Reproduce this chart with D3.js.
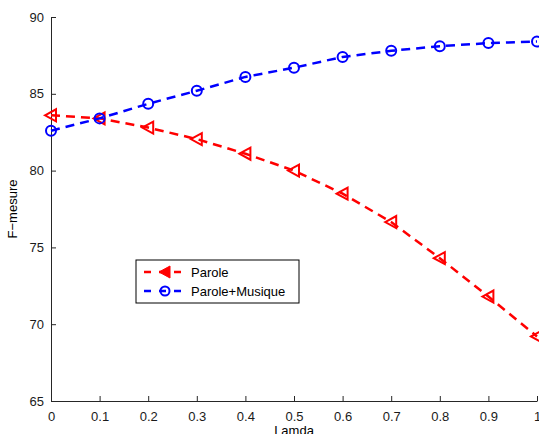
<!DOCTYPE html>
<html><head><meta charset="utf-8">
<script src="https://cdn.jsdelivr.net/npm/d3@7/dist/d3.min.js"></script>
<style>body{margin:0;background:#fff}svg{display:block}text{font-family:"Liberation Sans",Arial,sans-serif}</style>
</head><body>
<script>
const lambdas = [0,0.1,0.2,0.3,0.4,0.5,0.6,0.7,0.8,0.9,1.0];
const parole = [83.6,83.4,82.8,82.05,81.1,80.0,78.5,76.65,74.3,71.8,69.2];
const paroleMusique = [82.6,83.4,84.35,85.2,86.1,86.7,87.4,87.8,88.1,88.3,88.4];
const xTicks = [0,0.1,0.2,0.3,0.4,0.5,0.6,0.7,0.8,0.9,1];
const yTicks = [65,70,75,80,85,90];
const seriesNames = ["Parole","Parole+Musique"];
const colors = ["#ff0000","#0000ff"];

const W=539,H=434;
const svg=d3.select("body").append("svg").attr("width",W).attr("height",H);
const x=d3.scaleLinear().domain([0,1]).range([51,537]);
const y=d3.scaleLinear().domain([65,90]).range([401,17]);

const xa=svg.append("g").attr("transform","translate(0,401)")
  .call(d3.axisBottom(x).tickValues(xTicks).tickSizeInner(-5).tickSizeOuter(0).tickFormat(d=>d3.format("~g")(d)));
const ya=svg.append("g").attr("transform","translate(51,0)")
  .call(d3.axisLeft(y).tickValues(yTicks).tickSizeInner(-5).tickSizeOuter(0).tickPadding(7));
[xa,ya].forEach(a=>{a.selectAll("path,line").attr("stroke","#262626").attr("stroke-width",1);
  a.selectAll("text").attr("font-size",13).attr("fill","#1a1a1a");});
xa.selectAll("text").attr("y",20).attr("dy",0);

svg.append("text").attr("x",x(0.5)).attr("y",435).attr("text-anchor","middle").attr("font-size",13).text("Lamda");
svg.append("text").attr("transform","translate(17,209) rotate(-90)").attr("text-anchor","middle").attr("font-size",13).text("F\u2212mesure");

const line=d3.line().x((d,i)=>x(lambdas[i])).y(d=>y(d));
const tri=(g,cx,cy,c)=>g.append("path").attr("d",`M${cx-6},${cy} L${cx+5},${cy-6} L${cx+5},${cy+6} Z`)
  .attr("fill","none").attr("stroke",c).attr("stroke-width",2);
const circ=(g,cx,cy,c)=>g.append("circle").attr("cx",cx).attr("cy",cy).attr("r",5)
  .attr("fill","none").attr("stroke",c).attr("stroke-width",2);

[parole,paroleMusique].forEach((s,k)=>{
  svg.append("path").datum(s).attr("d",line).attr("fill","none").attr("stroke",colors[k])
    .attr("stroke-width",2.5).attr("stroke-dasharray","9,6");
  const g=svg.append("g");
  s.forEach((v,i)=>{ (k===0?tri:circ)(g,x(lambdas[i]),y(v),colors[k]); });
});

const lg=svg.append("g");
lg.append("rect").attr("x",136).attr("y",260).attr("width",163).attr("height",43)
  .attr("fill","#fff").attr("stroke","#000").attr("stroke-width",1);
seriesNames.forEach((n,k)=>{
  const yy=272+k*19;
  lg.append("line").attr("x1",144).attr("x2",186).attr("y1",yy).attr("y2",yy)
    .attr("stroke",colors[k]).attr("stroke-width",2.5).attr("stroke-dasharray","7,8");
  if(k===0){lg.append("path").attr("d",`M159,${yy} L170,${yy-6} L170,${yy+6} Z`).attr("fill",colors[0]).attr("stroke",colors[0]).attr("stroke-width",1);}
  else {circ(lg,165,yy,colors[1]).attr("r",4.5);}
  lg.append("text").attr("x",191).attr("y",yy+5).attr("font-size",13).text(n);
});
</script>
</body></html>
